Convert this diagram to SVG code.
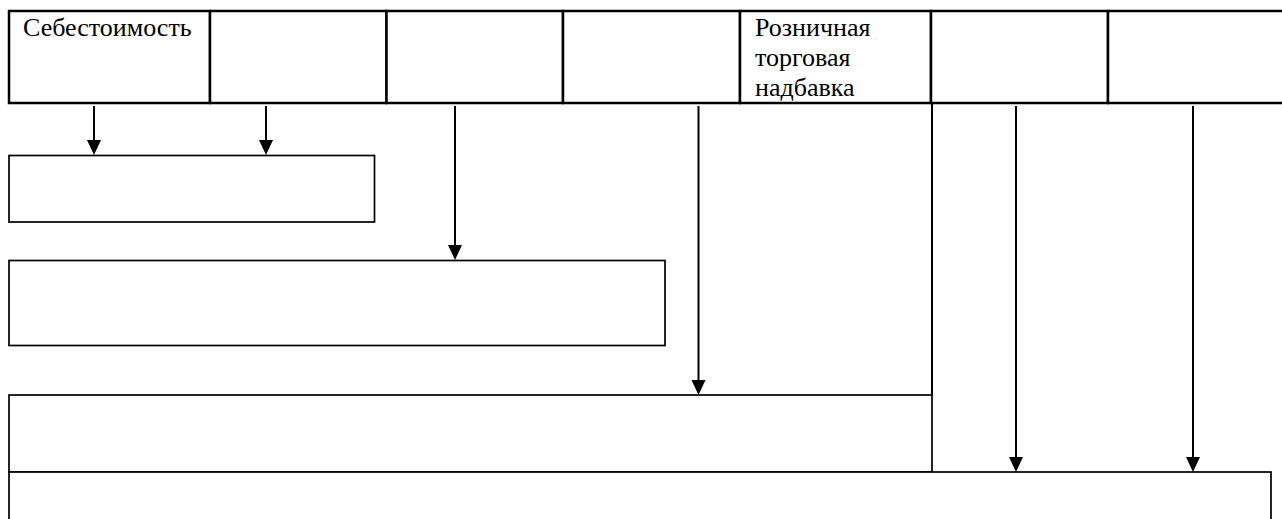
<svg xmlns="http://www.w3.org/2000/svg" width="1282" height="519" viewBox="0 0 1282 519">
<style>
.cell{fill:#fff;stroke:#000;stroke-width:2.5}
.box{fill:#fff;stroke:#000;stroke-width:1.7}
.con{stroke:#000;stroke-width:2;fill:none}
.lbl{font-family:'Liberation Serif','DejaVu Serif',serif;font-size:26px;fill:#000}
</style>
<g id="header">
<g id="c1"><rect class="cell" x="9" y="11" width="201" height="92"/><text class="lbl" x="23" y="36" font-family="Liberation Serif, serif">Себестоимость</text></g>
<g id="c2"><rect class="cell" x="210" y="11" width="176.5" height="92"/></g>
<g id="c3"><rect class="cell" x="386.5" y="11" width="176.5" height="92"/></g>
<g id="c4"><rect class="cell" x="563" y="11" width="177" height="92"/></g>
<g id="c5"><rect class="cell" x="740" y="11" width="191" height="92"/><text class="lbl" x="755" y="36">Розничная</text><text class="lbl" x="755" y="66">торговая</text><text class="lbl" x="755" y="96">надбавка</text></g>
<g id="c6"><rect class="cell" x="931" y="11" width="177" height="92"/></g>
<g id="c7"><rect class="cell" x="1108" y="11" width="190" height="92"/></g>
</g>
<g id="b1"><rect class="box" x="9" y="155.5" width="365.5" height="66.5"/></g>
<g id="b2"><rect class="box" x="9" y="260.5" width="656" height="85"/></g>
<g id="b3"><rect class="box" x="9" y="395" width="923" height="77"/></g>
<g id="b4"><rect class="box" x="9" y="472" width="1262" height="60"/></g>
<g id="connectors">
<line class="con" x1="932" y1="104" x2="932" y2="395"/>
<path d="M94,106 V141" class="con"/><path d="M87,140 L101,140 L94,155 Z"/>
<path d="M266,106 V141" class="con"/><path d="M259,140 L273,140 L266,155 Z"/>
<path d="M455,106 V246" class="con"/><path d="M448,245 L462,245 L455,260 Z"/>
<path d="M698.5,106 V381" class="con"/><path d="M691.5,380 L705.5,380 L698.5,395 Z"/>
<path d="M1016,106 V458" class="con"/><path d="M1009,457 L1023,457 L1016,472 Z"/>
<path d="M1193,106 V458" class="con"/><path d="M1186,457 L1200,457 L1193,472 Z"/>
</g>
</svg>
